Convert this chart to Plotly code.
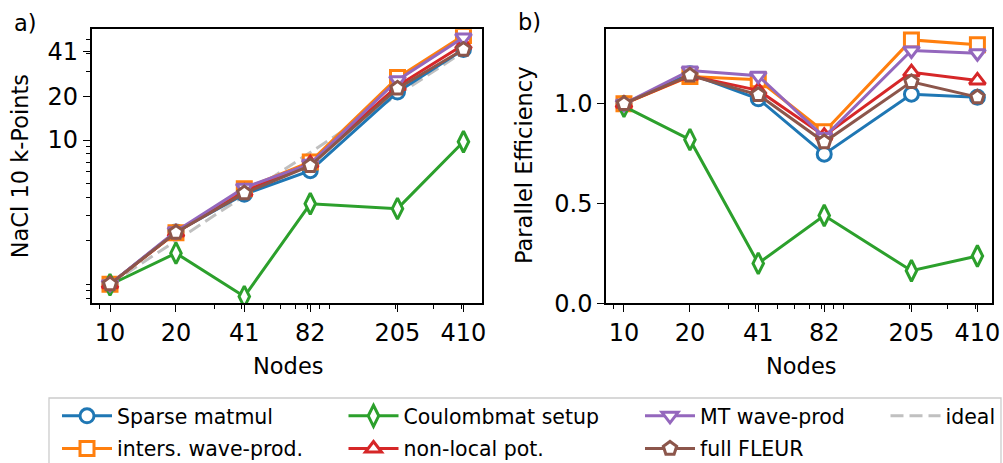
import plotly.graph_objects as go
from plotly.subplots import make_subplots

nodes = [10, 20, 41, 82, 205, 410]
tick_labels = ["10", "20", "41", "82", "205", "410"]

names = ["Sparse matmul", "inters. wave-prod.", "Coulombmat setup",
         "non-local pot.", "MT wave-prod", "full FLEUR"]
colors = ["#1f77b4", "#ff7f0e", "#2ca02c", "#d62728", "#9467bd", "#8c564b"]
symbols = ["circle", "square", "diamond-tall", "triangle-up", "triangle-down", "pentagon"]

# speedup relative to 10 nodes (panel a)
speedup_sparse = [1.0, 2.30, 4.20, 6.13, 21.5, 42.4]
speedup_inters = [1.0, 2.27, 4.59, 7.05, 27.1, 53.1]
speedup_coulomb = [0.99, 1.64, 0.82, 3.61, 3.34, 9.72]
speedup_nonlocal = [1.0, 2.28, 4.37, 6.89, 23.7, 45.8]
speedup_mt = [1.0, 2.33, 4.67, 6.83, 26.0, 51.4]
speedup_fleur = [1.0, 2.28, 4.28, 6.63, 22.8, 42.4]
speedup_ideal = [1.0, 2.0, 4.1, 8.2, 20.5, 41.0]

# parallel efficiency (panel b)
eff_sparse = [1.0, 1.15, 1.025, 0.747, 1.048, 1.033]
eff_inters = [1.0, 1.137, 1.12, 0.86, 1.32, 1.295]
eff_coulomb = [0.987, 0.82, 0.20, 0.44, 0.163, 0.237]
eff_nonlocal = [1.0, 1.14, 1.067, 0.84, 1.158, 1.117]
eff_mt = [1.0, 1.167, 1.14, 0.833, 1.267, 1.253]
eff_fleur = [1.0, 1.142, 1.045, 0.808, 1.11, 1.033]
eff_ideal = 1.0

left_y_ticks = [10, 20, 41]
left_y_minor = [0.8, 0.9, 1, 2, 3, 4, 5, 6, 7, 8, 9, 30, 40, 50]
x_minor = [9, 30, 40, 50, 60, 70, 80, 90, 100, 200, 300, 400]
right_y_ticks = [0.0, 0.5, 1.0]

speedups = [speedup_sparse, speedup_inters, speedup_coulomb,
            speedup_nonlocal, speedup_mt, speedup_fleur]
effs = [eff_sparse, eff_inters, eff_coulomb, eff_nonlocal, eff_mt, eff_fleur]
legend_ids = ["legend", "legend", "legend2", "legend2", "legend3", "legend3"]

W, H = 1003, 463
FONT = "DejaVu Sans"

fig = make_subplots(rows=1, cols=2)

# ideal line (panel a)
fig.add_trace(go.Scatter(
    x=nodes, y=speedup_ideal, mode="lines", name="ideal",
    line=dict(color="#c0c0c0", width=3, dash="13px,6px"),
    legend="legend4", legendgroup="ideal"), row=1, col=1)
fig.add_hline(y=eff_ideal, line=dict(color="#c0c0c0", width=3, dash="13px,6px"),
              row=1, col=2)

for i in range(6):
    mk = dict(symbol=symbols[i], size=14, color="white",
              line=dict(color=colors[i], width=3))
    if symbols[i] == "diamond-tall":
        mk["size"] = 15
    fig.add_trace(go.Scatter(
        x=nodes, y=speedups[i], mode="lines+markers", name=names[i],
        line=dict(color=colors[i], width=3), marker=mk,
        legend=legend_ids[i], legendgroup="g%d" % i), row=1, col=1)
    fig.add_trace(go.Scatter(
        x=nodes, y=effs[i], mode="lines+markers", name=names[i],
        line=dict(color=colors[i], width=3), marker=mk,
        showlegend=False, legendgroup="g%d" % i), row=1, col=2)

def px_x(p):
    return p / W

def px_y(p):
    return 1 - p / H

axis_common = dict(showline=True, linecolor="black", linewidth=1.5, mirror=True,
                   ticks="outside", ticklen=7, tickwidth=1.3, tickcolor="black",
                   showgrid=False, zeroline=False,
                   tickfont=dict(family=FONT, size=24, color="black"))

fig.update_xaxes(type="log", tickmode="array", tickvals=nodes, ticktext=tick_labels,
                 ticklabelstandoff=0,
                 minor=dict(tickmode="array", tickvals=x_minor, ticks="outside",
                            ticklen=4, tickwidth=1, tickcolor="black", showgrid=False),
                 **axis_common)
fig.update_xaxes(domain=[px_x(91.7), px_x(481.7)], range=[0.9165, 2.696], row=1, col=1)
fig.update_xaxes(domain=[px_x(606), px_x(991.7)], range=[0.918, 2.678], row=1, col=2)

fig.update_yaxes(domain=[px_y(303.3), px_y(29.3)], **axis_common)
fig.update_yaxes(type="log", tickmode="array", tickvals=left_y_ticks,
                 ticktext=[str(v) for v in left_y_ticks], range=[-0.133, 1.768],
                 minor=dict(tickmode="array", tickvals=left_y_minor, ticks="outside",
                            ticklen=4, tickwidth=1, tickcolor="black", showgrid=False),
                 row=1, col=1)
fig.update_yaxes(tickmode="array", tickvals=right_y_ticks,
                 ticktext=["%.1f" % v for v in right_y_ticks], range=[0, 1.373],
                 row=1, col=2)

ann_font = dict(family=FONT, size=22.5, color="black")
annotations = [
    dict(text="a)", x=px_x(25), y=px_y(23)),
    dict(text="b)", x=px_x(529), y=px_y(22)),
    dict(text="Nodes", x=px_x(287.5), y=px_y(366)),
    dict(text="Nodes", x=px_x(800.5), y=px_y(366)),
    dict(text="NaCl 10 k-Points", x=px_x(20), y=px_y(166.3), textangle=-90),
    dict(text="Parallel Efficiency", x=px_x(524), y=px_y(165), textangle=-90),
]
for a in annotations:
    fig.add_annotation(xref="paper", yref="paper", showarrow=False,
                       xanchor="center", yanchor="middle", font=ann_font, **a)

# legend frame
fig.add_shape(type="rect", xref="paper", yref="paper",
              x0=px_x(49), x1=px_x(1001), y0=px_y(470), y1=px_y(398),
              line=dict(color="#cccccc", width=1.3), fillcolor="rgba(0,0,0,0)")

leg_common = dict(font=dict(family=FONT, size=20.5, color="black"),
                  bgcolor="rgba(0,0,0,0)", borderwidth=0, itemwidth=50,
                  orientation="v", xanchor="left", yanchor="top",
                  tracegroupgap=3, itemclick=False)
legend_text_start = [116, 402.5, 699, 944.5]
fig.update_layout(
    legend=dict(x=px_x(legend_text_start[0] - 59), y=px_y(396), **leg_common),
    legend2=dict(x=px_x(legend_text_start[1] - 59), y=px_y(396), **leg_common),
    legend3=dict(x=px_x(legend_text_start[2] - 59), y=px_y(396), **leg_common),
    legend4=dict(x=px_x(legend_text_start[3] - 59), y=px_y(396), **leg_common),
)

fig.update_layout(width=W, height=H,
                  margin=dict(l=0, r=0, t=0, b=0, autoexpand=False),
                  plot_bgcolor="white", paper_bgcolor="white",
                  font=dict(family=FONT, color="black"))

fig.write_html("out.html")
